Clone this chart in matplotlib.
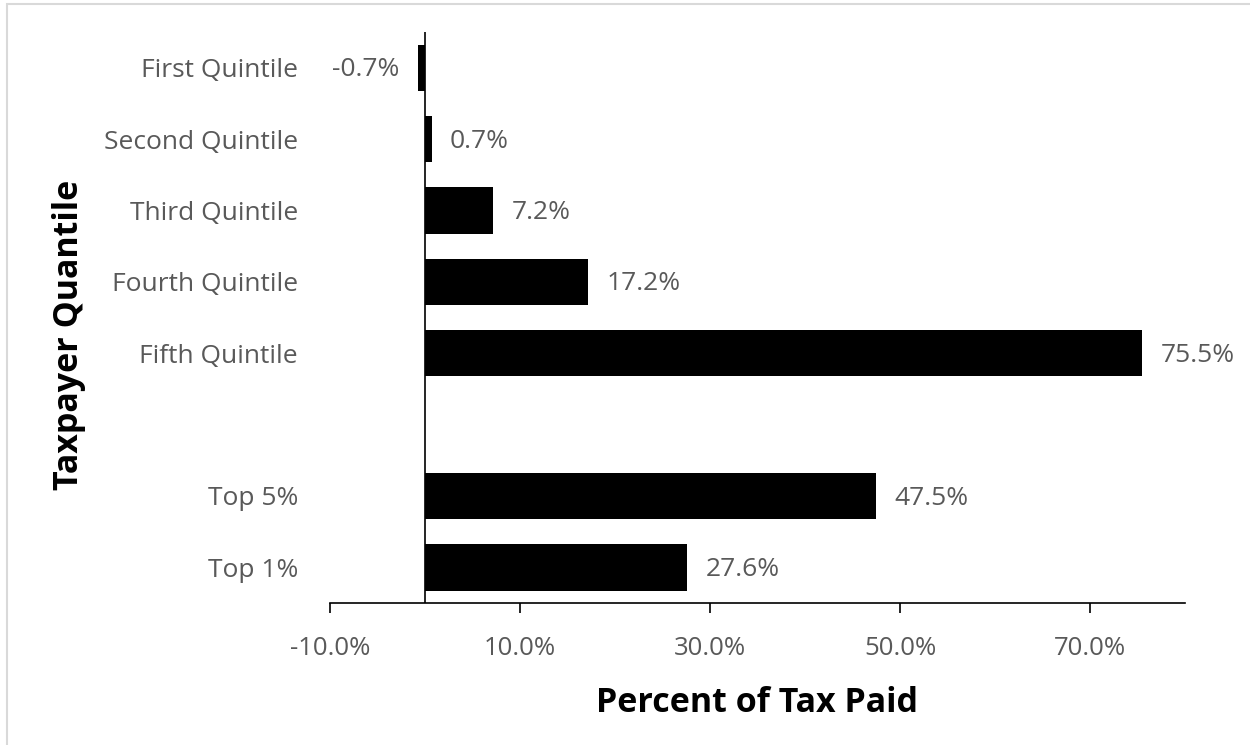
import matplotlib.pyplot as plt
from matplotlib.patches import Rectangle

# share of total tax paid by taxpayer group
groups = ["First Quintile", "Second Quintile", "Third Quintile", "Fourth Quintile",
          "Fifth Quintile", "", "Top 5%", "Top 1%"]
shares = [-0.7, 0.7, 7.2, 17.2, 75.5, None, 47.5, 27.6]
xticks = [-10, 10, 30, 50, 70]

plt.rcParams['font.family'] = ['Open Sans', 'DejaVu Sans']
grey = '#595959'
fs = 19

fig = plt.figure(figsize=(12.5, 7.45), dpi=100)
ax = fig.add_axes([0.264, 0.1906, 0.684, 0.7664])

ypos = list(range(len(groups)))
for y, v in zip(ypos, shares):
    if v is None:
        continue
    ax.barh(y, v, height=0.65, color='black', zorder=2)
    off = 13 if v >= 0 else -14
    ax.annotate(f"{v:.1f}%", (v, y), xytext=(off, -1.5), textcoords='offset points',
                ha='left' if v >= 0 else 'right', va='center', fontsize=fs, color=grey)

ax.set_xlim(-10, 80)
ax.set_ylim(len(groups) - 0.5, -0.5)
ax.set_xticks(xticks)
ax.set_xticklabels([f"{t:.1f}%" for t in xticks])
ax.set_yticks(ypos)
ax.set_yticklabels(groups)

for s in ['top', 'right', 'left']:
    ax.spines[s].set_visible(False)
ax.spines['bottom'].set_color('black')
ax.spines['bottom'].set_linewidth(1.2)
ax.axvline(0, color='black', lw=1.2, zorder=3)

ax.tick_params(axis='x', direction='out', length=7, width=1.2, colors='black',
               labelcolor=grey, labelsize=18.5, pad=17)
ax.tick_params(axis='y', length=0, labelcolor=grey, labelsize=fs, pad=23)

ax.set_xlabel("Percent of Tax Paid", fontsize=24.5, fontweight='bold', labelpad=18)
fig.text(0.055, 0.55, "Taxpayer Quantile", rotation=90, ha='center', va='center',
         fontsize=24.5, fontweight='bold')

# chart frame edges
fig.add_artist(Rectangle((0.0055, -0.05), 1.1, 1.044, transform=fig.transFigure,
                         fill=False, edgecolor='#d9d9d9', lw=1.5))

fig.savefig("out.png", dpi=100)
